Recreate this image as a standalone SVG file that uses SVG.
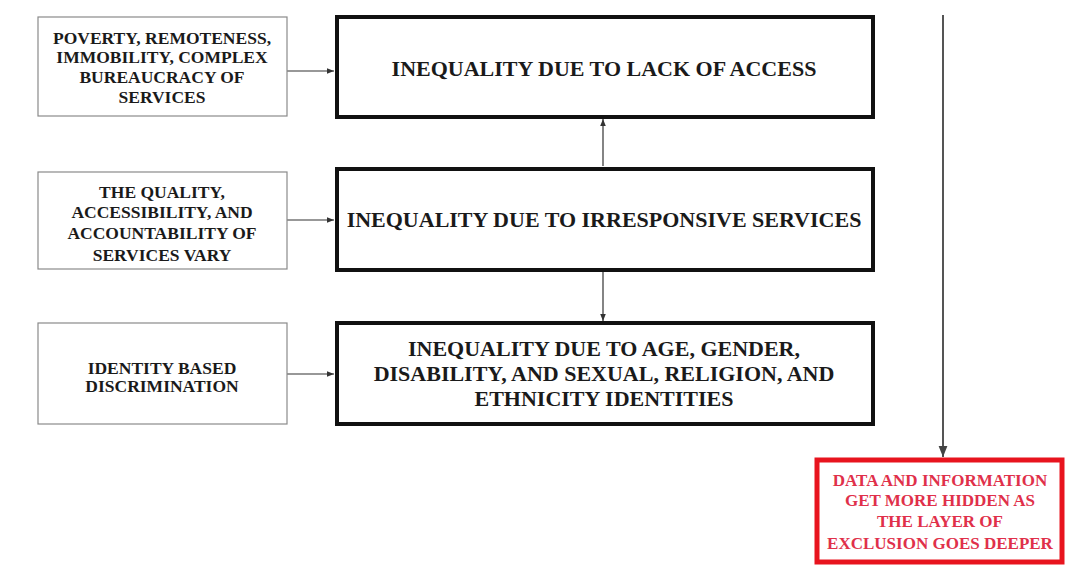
<svg xmlns="http://www.w3.org/2000/svg" width="1065" height="565" viewBox="0 0 1065 565">
<style>
.src{fill:#fff;stroke:#8a8a8a;stroke-width:1.2}
.main{fill:#fff;stroke:#111;stroke-width:4}
.red{fill:#fff;stroke:#e8141e;stroke-width:5}
.t{font-family:"Liberation Serif","Times New Roman",serif;font-weight:bold;text-anchor:middle;fill:#1a1a1a}
.s{font-size:17.5px}
.m{font-size:22px}
.r{font-size:17px;fill:#e0304a}
.c{stroke:#333;stroke-width:1.2;fill:none}
</style>
<defs>
<marker id="ah" viewBox="0 0 10 10" refX="10" refY="5" markerWidth="7" markerHeight="7" orient="auto" markerUnits="userSpaceOnUse">
<path d="M0,1 L10,5 L0,9 z" fill="#333"/>
</marker>
<marker id="ahb" viewBox="0 0 10 10" refX="10" refY="5" markerWidth="11" markerHeight="11" orient="auto" markerUnits="userSpaceOnUse">
<path d="M0,1 L10,5 L0,9 z" fill="#444"/>
</marker>
</defs>
<rect width="1065" height="565" fill="#fff"/>
<g id="connectors">
<line class="c" x1="287" y1="71" x2="334" y2="71" marker-end="url(#ah)"/>
<line class="c" x1="287" y1="220" x2="334" y2="220" marker-end="url(#ah)"/>
<line class="c" x1="287" y1="374" x2="334" y2="374" marker-end="url(#ah)"/>
<line class="c" x1="603" y1="166" x2="603" y2="119" marker-end="url(#ah)"/>
<line class="c" x1="603" y1="272" x2="603" y2="321" marker-end="url(#ah)"/>
<line x1="943" y1="15" x2="943" y2="457" stroke="#555" stroke-width="2" marker-end="url(#ahb)"/>
</g>
<g id="src1">
<rect class="src" x="38" y="17" width="249" height="99"/>
<text class="t s" x="162" y="44">POVERTY, REMOTENESS,</text>
<text class="t s" x="162" y="63">IMMOBILITY, COMPLEX</text>
<text class="t s" x="162" y="83">BUREAUCRACY OF</text>
<text class="t s" x="162" y="103">SERVICES</text>
</g>
<g id="src2">
<rect class="src" x="38" y="172" width="249" height="97"/>
<text class="t s" x="162" y="198">THE QUALITY,</text>
<text class="t s" x="162" y="218">ACCESSIBILITY, AND</text>
<text class="t s" x="162" y="239">ACCOUNTABILITY OF</text>
<text class="t s" x="162" y="261">SERVICES VARY</text>
</g>
<g id="src3">
<rect class="src" x="38" y="323" width="249" height="101"/>
<text class="t s" x="162" y="374">IDENTITY BASED</text>
<text class="t s" x="162" y="392">DISCRIMINATION</text>
</g>
<g id="main1">
<rect class="main" x="337" y="17" width="536" height="100"/>
<text class="t m" x="604" y="76">INEQUALITY DUE TO LACK OF ACCESS</text>
</g>
<g id="main2">
<rect class="main" x="337" y="169" width="536" height="101"/>
<text class="t m" x="604" y="227">INEQUALITY DUE TO IRRESPONSIVE SERVICES</text>
</g>
<g id="main3">
<rect class="main" x="337" y="323" width="536" height="101"/>
<text class="t m" x="604" y="356">INEQUALITY DUE TO AGE, GENDER,</text>
<text class="t m" x="604" y="381">DISABILITY, AND SEXUAL, RELIGION, AND</text>
<text class="t m" x="604" y="406">ETHNICITY IDENTITIES</text>
</g>
<g id="result">
<rect class="red" x="817" y="460" width="245" height="102"/>
<text class="t r" x="940" y="486">DATA AND INFORMATION</text>
<text class="t r" x="940" y="506">GET MORE HIDDEN AS</text>
<text class="t r" x="940" y="527">THE LAYER OF</text>
<text class="t r" x="940" y="549">EXCLUSION GOES DEEPER</text>
</g>
</svg>
